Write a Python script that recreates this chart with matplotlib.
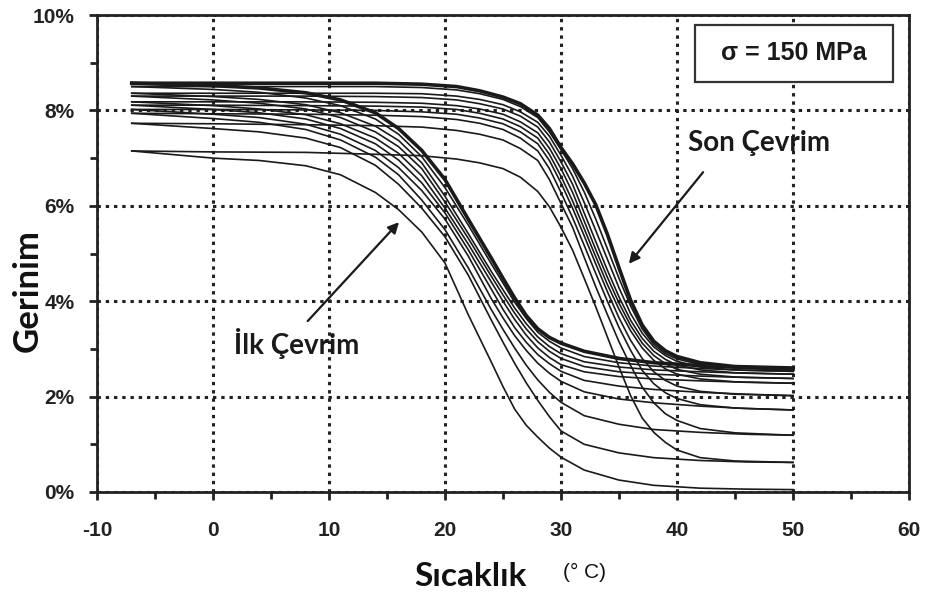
import matplotlib
matplotlib.use("Agg")
import matplotlib.pyplot as plt
from matplotlib.patches import Rectangle
from matplotlib.ticker import MultipleLocator, FuncFormatter

plt.rcParams["axes.unicode_minus"] = False

# temperature grids (deg C) for the cooling and heating branches
cooling_temps = [-7, 0, 4, 8, 11, 14, 16, 18, 20, 22, 24, 25, 26, 27, 28, 29, 30, 32, 35, 38, 42, 46, 50]
heating_temps = [-7, 0, 8, 14, 18, 21, 23, 25, 26.5, 28, 29, 30, 31, 32, 33, 34, 35, 36, 37, 38, 39, 40, 42, 45, 50]

# strain (%) along the cooling branch, cycle 1 .. cycle 10
cooling_strain = [
    [7.15, 7.00, 6.95, 6.84, 6.65, 6.28, 5.92, 5.45, 4.80, 3.72, 2.72, 2.21, 1.74, 1.40, 1.15, 0.92, 0.73, 0.46, 0.25, 0.14, 0.08, 0.06, 0.05],
    [7.73, 7.62, 7.55, 7.42, 7.22, 6.85, 6.45, 5.95, 5.35, 4.55, 3.60, 3.14, 2.70, 2.29, 1.92, 1.58, 1.28, 1.00, 0.82, 0.72, 0.66, 0.63, 0.62],
    [7.94, 7.83, 7.75, 7.60, 7.38, 7.02, 6.65, 6.12, 5.50, 4.70, 3.82, 3.41, 3.02, 2.66, 2.35, 2.09, 1.88, 1.60, 1.42, 1.31, 1.25, 1.21, 1.19],
    [8.02, 7.92, 7.85, 7.71, 7.50, 7.16, 6.80, 6.32, 5.72, 4.95, 4.05, 3.65, 3.28, 2.97, 2.70, 2.49, 2.32, 2.10, 1.95, 1.87, 1.80, 1.75, 1.72],
    [8.11, 8.02, 7.95, 7.82, 7.62, 7.30, 6.96, 6.48, 5.85, 5.08, 4.25, 3.83, 3.45, 3.14, 2.88, 2.69, 2.53, 2.34, 2.22, 2.15, 2.09, 2.05, 2.02],
    [8.18, 8.10, 8.03, 7.91, 7.72, 7.42, 7.10, 6.63, 5.95, 5.20, 4.40, 4.00, 3.62, 3.29, 3.02, 2.82, 2.67, 2.52, 2.42, 2.37, 2.33, 2.30, 2.28],
    [8.30, 8.22, 8.15, 8.03, 7.85, 7.55, 7.24, 6.78, 6.08, 5.32, 4.52, 4.13, 3.75, 3.42, 3.15, 2.95, 2.80, 2.63, 2.52, 2.47, 2.43, 2.40, 2.38],
    [8.36, 8.29, 8.23, 8.12, 7.95, 7.67, 7.37, 6.90, 6.20, 5.42, 4.62, 4.24, 3.86, 3.53, 3.25, 3.05, 2.90, 2.73, 2.62, 2.56, 2.52, 2.49, 2.47],
    [8.50, 8.44, 8.38, 8.26, 8.10, 7.82, 7.50, 7.03, 6.38, 5.60, 4.78, 4.38, 3.98, 3.64, 3.35, 3.16, 3.02, 2.84, 2.71, 2.64, 2.59, 2.55, 2.53],
    [8.57, 8.52, 8.47, 8.37, 8.22, 7.95, 7.62, 7.16, 6.55, 5.72, 4.90, 4.48, 4.07, 3.70, 3.42, 3.24, 3.12, 2.95, 2.80, 2.71, 2.65, 2.61, 2.57],
]

# strain (%) along the heating branch, cycle 1 .. cycle 10
heating_strain = [
    [7.15, 7.13, 7.12, 7.08, 7.05, 6.98, 6.90, 6.78, 6.60, 6.30, 5.98, 5.55, 5.07, 4.48, 3.88, 3.25, 2.62, 2.02, 1.55, 1.25, 1.04, 0.88, 0.72, 0.65, 0.62],
    [7.73, 7.72, 7.70, 7.68, 7.65, 7.58, 7.50, 7.38, 7.20, 6.95, 6.55, 6.05, 5.55, 4.92, 4.30, 3.72, 3.15, 2.65, 2.20, 1.87, 1.64, 1.50, 1.33, 1.24, 1.19],
    [7.94, 7.93, 7.92, 7.90, 7.87, 7.81, 7.73, 7.60, 7.42, 7.15, 6.78, 6.28, 5.75, 5.17, 4.58, 4.00, 3.45, 2.97, 2.55, 2.27, 2.08, 1.96, 1.83, 1.76, 1.72],
    [8.02, 8.02, 8.01, 8.00, 7.97, 7.92, 7.84, 7.72, 7.55, 7.30, 6.95, 6.48, 5.95, 5.37, 4.78, 4.20, 3.65, 3.18, 2.80, 2.52, 2.34, 2.22, 2.11, 2.05, 2.02],
    [8.11, 8.11, 8.10, 8.09, 8.07, 8.02, 7.94, 7.82, 7.66, 7.42, 7.08, 6.62, 6.10, 5.52, 4.93, 4.35, 3.83, 3.38, 3.02, 2.76, 2.58, 2.47, 2.37, 2.31, 2.28],
    [8.18, 8.18, 8.18, 8.17, 8.15, 8.10, 8.03, 7.92, 7.76, 7.53, 7.21, 6.78, 6.28, 5.68, 5.08, 4.50, 3.96, 3.49, 3.12, 2.86, 2.69, 2.57, 2.47, 2.41, 2.38],
    [8.30, 8.30, 8.30, 8.29, 8.27, 8.22, 8.14, 8.03, 7.88, 7.65, 7.34, 6.92, 6.45, 5.85, 5.25, 4.65, 4.09, 3.60, 3.22, 2.95, 2.78, 2.66, 2.56, 2.50, 2.47],
    [8.36, 8.36, 8.36, 8.36, 8.35, 8.30, 8.23, 8.12, 7.97, 7.75, 7.46, 7.06, 6.62, 6.07, 5.48, 4.88, 4.28, 3.74, 3.33, 3.04, 2.86, 2.74, 2.62, 2.56, 2.53],
    [8.50, 8.50, 8.50, 8.50, 8.48, 8.43, 8.35, 8.23, 8.08, 7.85, 7.55, 7.18, 6.78, 6.29, 5.72, 5.10, 4.48, 3.90, 3.42, 3.09, 2.90, 2.79, 2.67, 2.60, 2.57],
    [8.57, 8.57, 8.57, 8.57, 8.55, 8.50, 8.41, 8.28, 8.14, 7.90, 7.62, 7.22, 6.88, 6.48, 6.02, 5.40, 4.70, 4.02, 3.50, 3.16, 2.96, 2.84, 2.71, 2.63, 2.60],
]

fig = plt.figure(figsize=(9.27, 5.96), dpi=100)
ax = fig.add_axes([0.1046, 0.1745, 0.876, 0.8003])

n_cycles = len(cooling_strain)
for i in range(n_cycles):
    lw = 2.6 if i == n_cycles - 1 else 1.2
    ax.plot(cooling_temps, cooling_strain[i], color="#1a1a1a", lw=lw, solid_joinstyle="round", zorder=3)
    ax.plot(heating_temps, heating_strain[i], color="#1a1a1a", lw=lw, solid_joinstyle="round", zorder=3)

ax.set_xlim(-10, 60)
ax.set_ylim(0, 10)
ax.xaxis.set_major_locator(MultipleLocator(10))
ax.xaxis.set_minor_locator(MultipleLocator(5))
ax.yaxis.set_major_locator(MultipleLocator(2))
ax.yaxis.set_minor_locator(MultipleLocator(1))
ax.yaxis.set_major_formatter(FuncFormatter(lambda v, p: f"{v:.0f}%"))

ax.grid(which="major", color="#222222", linestyle=(0, (1.1, 1.6)), linewidth=2.2, zorder=1)

for sp in ax.spines.values():
    sp.set_linewidth(2)
    sp.set_color("#222222")
ax.tick_params(which="both", direction="out", width=2, color="#222222")
ax.tick_params(which="major", length=6)
ax.tick_params(which="minor", length=5)
for lab in ax.get_xticklabels() + ax.get_yticklabels():
    lab.set_fontfamily("Liberation Sans")
    lab.set_fontweight("bold")
    lab.set_fontsize(15)
    lab.set_color("#222222")
ax.tick_params(axis="x", pad=15)
ax.tick_params(axis="y", pad=10)

# stress annotation box
ax.add_patch(Rectangle((0.736, 0.860), 0.244, 0.119, transform=ax.transAxes,
                       facecolor="white", edgecolor="#333333", lw=1.6, zorder=4))
ax.text(0.858, 0.920, "σ = 150 MPa", transform=ax.transAxes, ha="center", va="center",
        family="Liberation Sans", fontweight="bold", fontsize=18, color="#1a1a1a", zorder=5)

# first / last cycle labels
ax.annotate("", xy=(35.7, 4.74), xytext=(42.4, 6.75),
            arrowprops=dict(arrowstyle="-|>", color="#1a1a1a", lw=1.6, mutation_scale=16), zorder=5)
ax.text(47.1, 7.32, "Son Çevrim", ha="center", va="center", family="Lato",
        fontweight="bold", fontsize=20, color="#1a1a1a")
ax.annotate("", xy=(16.2, 5.70), xytext=(8.0, 3.54),
            arrowprops=dict(arrowstyle="-|>", color="#1a1a1a", lw=1.6, mutation_scale=16), zorder=5)
ax.text(7.2, 3.12, "İlk Çevrim", ha="center", va="center", family="Lato",
        fontweight="bold", fontsize=20, color="#1a1a1a")

fig.text(0.030, 0.512, "Gerinim", rotation=90, ha="center", va="center", family="Lato",
         fontweight="bold", fontsize=25, color="#111111")
fig.text(0.507, 0.032, "Sıcaklık", ha="center", va="center", family="Lato",
         fontweight="bold", fontsize=24, color="#111111")
fig.text(0.630, 0.040, "(° C)", ha="center", va="center", family="Liberation Sans",
         fontsize=15, color="#111111")

fig.savefig("out.png", dpi=100)
